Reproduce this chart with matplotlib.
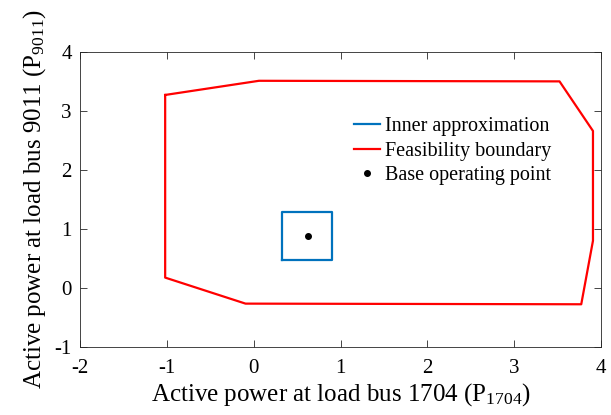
import matplotlib.pyplot as plt

plt.rcParams['font.family'] = ['Liberation Serif', 'DejaVu Serif']
plt.rcParams['mathtext.fontset'] = 'custom'
plt.rcParams['mathtext.rm'] = 'Liberation Serif'
plt.rcParams['mathtext.it'] = 'Liberation Serif'
plt.rcParams['axes.unicode_minus'] = False

# feasibility boundary vertices (closed polygon)
boundary_x = [-1.02, 0.06, 3.52, 3.905, 3.905, 3.77, -0.095, -1.02, -1.02]
boundary_y = [3.27, 3.51, 3.50, 2.66, 0.80, -0.277, -0.266, 0.175, 3.27]

# inner approximation box
inner_x = [0.32, 0.90, 0.90, 0.32, 0.32]
inner_y = [0.47, 0.47, 1.28, 1.28, 0.47]

# base operating point
base_x = [0.62]
base_y = [0.887]

fig = plt.figure(figsize=(6.11, 4.15), dpi=100)
ax = fig.add_axes([0.131, 0.164, 0.853, 0.711])

ax.plot(inner_x, inner_y, color='#0072BD', lw=1.6, label='Inner approximation')
ax.plot(boundary_x, boundary_y, color='#FF0000', lw=1.6, label='Feasibility boundary')
ax.plot(base_x, base_y, 'k.', ms=8, label='Base operating point')

ax.set_xlim(-2, 4)
ax.set_ylim(-1, 4)
ax.set_xticks(range(-2, 5))
ax.set_yticks(range(-1, 5))
ax.tick_params(direction='in', top=True, right=True, labelsize=15, length=5,
               width=0.6, color='#262626')
ax.tick_params(axis='x', pad=9)
ax.tick_params(axis='y', pad=6)
for s in ax.spines.values():
    s.set_linewidth(0.6)
    s.set_color('#262626')

ax.set_xlabel('Active power at load bus 1704 (P$_{1704}$)', fontsize=18, labelpad=2)
ax.set_ylabel('Active power at load bus 9011 (P$_{9011}$)', fontsize=18, labelpad=5)

ax.legend(loc='upper left', bbox_to_anchor=(0.525, 0.78), frameon=False,
          fontsize=14.5, handlelength=1.3, handletextpad=0.25, labelspacing=0.28,
          borderpad=0, borderaxespad=0)

fig.savefig('out.png', dpi=100)
